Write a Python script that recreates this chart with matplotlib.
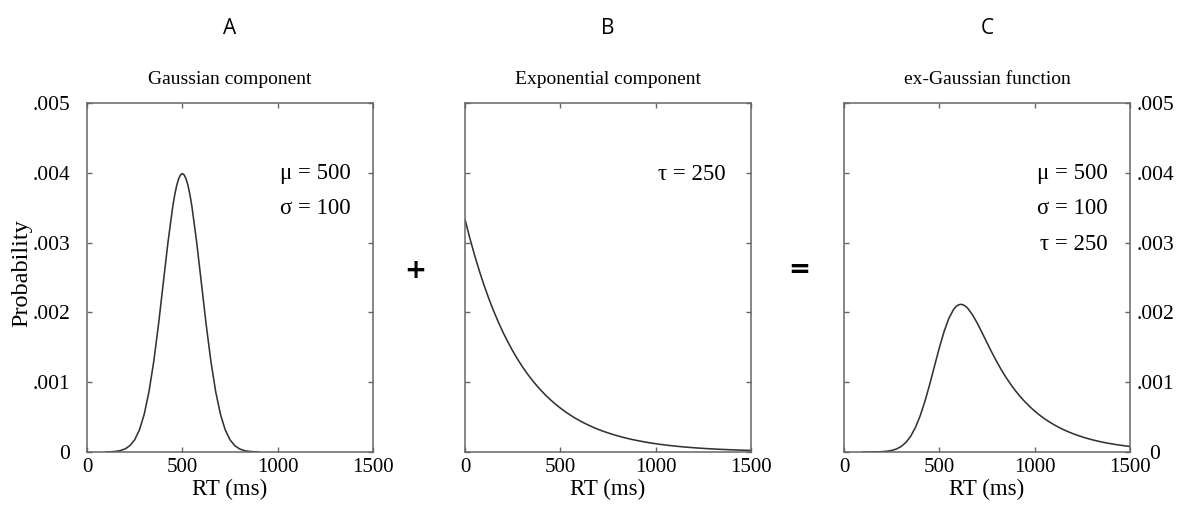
import numpy as np
import matplotlib
matplotlib.use("Agg")
import matplotlib.pyplot as plt

# values (RT in ms, probability density)
gauss_rt = [100, 125, 150, 175, 200, 225, 250, 275, 300, 325, 350, 375, 400,
            425, 450, 460, 470, 480, 490, 500, 510, 520, 530, 540, 550, 575,
            600, 625, 650, 675, 700, 725, 750, 775, 800, 825, 850, 875, 900]
gauss_p = [0.0000013, 0.0000035, 0.0000087, 0.0000203, 0.0000443, 0.0000909,
           0.000175, 0.000317, 0.000540, 0.000863, 0.001295, 0.001826,
           0.002420, 0.003011, 0.003521, 0.003683, 0.003814, 0.003910,
           0.003969, 0.003989, 0.003969, 0.003910, 0.003814, 0.003683,
           0.003521, 0.003011, 0.002420, 0.001826, 0.001295, 0.000863,
           0.000540, 0.000317, 0.000175, 0.0000909, 0.0000443, 0.0000203,
           0.0000087, 0.0000035, 0.0000013]

expo_rt = list(range(0, 1525, 25))
expo_p = [0.003333, 0.003067, 0.002822, 0.002596, 0.002388, 0.002197,
          0.002022, 0.001860, 0.001711, 0.001575, 0.001449, 0.001333,
          0.001226, 0.001128, 0.001038, 0.000955, 0.000879, 0.000808,
          0.000744, 0.000684, 0.000630, 0.000579, 0.000533, 0.000490,
          0.000451, 0.000415, 0.000382, 0.000351, 0.000323, 0.000297,
          0.000274, 0.000252, 0.000232, 0.000213, 0.000196, 0.000180,
          0.000166, 0.000153, 0.000140, 0.000129, 0.000119, 0.000109,
          0.000101, 0.0000926, 0.0000852, 0.0000784, 0.0000721, 0.0000664,
          0.0000611, 0.0000562, 0.0000517, 0.0000475, 0.0000437, 0.0000402,
          0.0000370, 0.0000341, 0.0000313, 0.0000288, 0.0000265, 0.0000244,
          0.0000225]

exg_rt = [100, 125, 150, 175, 200, 225, 250, 275, 300, 325, 350, 375, 400,
          425, 450, 475, 500, 525, 550, 575, 587.5, 600, 612.5, 625, 637.5,
          650, 675, 700, 725, 750, 775, 800, 825, 850, 875, 900, 925, 950,
          975, 1000, 1025, 1050, 1075, 1100, 1125, 1150, 1175, 1200, 1225,
          1250, 1275, 1300, 1325, 1350, 1375, 1400, 1425, 1450, 1475, 1500]
exg_p = [0.0000001, 0.0000003, 0.0000009, 0.0000021, 0.0000049, 0.0000106,
         0.0000220, 0.0000429, 0.0000791, 0.0001377, 0.0002267, 0.0003534,
         0.0005220, 0.0007314, 0.0009741, 0.0012348, 0.0014931, 0.0017267,
         0.0019152, 0.0020443, 0.0020844, 0.0021080, 0.0021158, 0.0021087,
         0.0020881, 0.0020555, 0.0019613, 0.0018403, 0.0017051, 0.0015656,
         0.0014288, 0.0012990, 0.0011783, 0.0010675, 0.0009665, 0.0008747,
         0.0007916, 0.0007163, 0.0006481, 0.0005864, 0.0005306, 0.0004801,
         0.0004344, 0.0003931, 0.0003557, 0.0003218, 0.0002912, 0.0002635,
         0.0002384, 0.0002157, 0.0001952, 0.0001766, 0.0001598, 0.0001446,
         0.0001308, 0.0001184, 0.0001071, 0.0000969, 0.0000877, 0.0000794]

x_ticks = [0, 500, 1000, 1500]
y_ticks = [0, 0.001, 0.002, 0.003, 0.004, 0.005]
y_labels = ['0', '.001', '.002', '.003', '.004', '.005']

letters = ['A', 'B', 'C']
titles = ['Gaussian component', 'Exponential component', 'ex-Gaussian function']
params = [['\u03bc = 500', '\u03c3 = 100'],
          ['\u03c4 = 250'],
          ['\u03bc = 500', '\u03c3 = 100', '\u03c4 = 250']]

serif = 'Liberation Serif'
sans = 'Open Sans'
spine_col = '#666666'
line_col = '#333333'

fig = plt.figure(figsize=(11.8, 5.13), dpi=100)
W, H = 1180, 513
lefts = [87, 465, 844]
pw = 286
top, bottom = 103, 452
axes = []
for l in lefts:
    axes.append(fig.add_axes([l / W, 1 - bottom / H, pw / W, (bottom - top) / H]))

data = [(gauss_rt, gauss_p), (expo_rt, expo_p), (exg_rt, exg_p)]
ann_x = [351, 726, 1108]

for i, ax in enumerate(axes):
    x, y = data[i]
    ax.plot(x, y, color=line_col, lw=1.15)
    ax.set_xlim(0, 1500)
    ax.set_ylim(0, 0.005)
    ax.set_xticks(x_ticks)
    ax.set_xticklabels([str(t) for t in x_ticks], fontfamily=serif, fontsize=15)
    ax.set_yticks(y_ticks)
    for s in ax.spines.values():
        s.set_color(spine_col)
        s.set_linewidth(1.1)
    ax.tick_params(direction='in', length=3.5, width=1, color=spine_col,
                   top=True, right=True, pad=4)
    if i == 0:
        ax.set_yticklabels(y_labels, fontfamily=serif, fontsize=15.5)
        ax.tick_params(axis='y', pad=12)
    elif i == 1:
        ax.set_yticklabels([])
    else:
        ax.yaxis.tick_right()
        ax.tick_params(axis='y', left=True, right=True, labelleft=False,
                       labelright=True, pad=18)
        ax.set_yticklabels(y_labels, fontfamily=serif, fontsize=15.5)
        for lab in ax.get_yticklabels():
            lab.set_horizontalalignment('center')
    ax.text(0.5, -(489 - bottom) / (bottom - top), 'RT (ms)', transform=ax.transAxes,
            ha='center', va='center', fontfamily=serif, fontsize=16.5)
    cx = (lefts[i] + pw / 2) / W
    fig.text(cx, 1 - 80 / H, titles[i], ha='center', va='center',
             fontfamily=serif, fontsize=14)
    fig.text(cx, 1 - 28 / H, letters[i], ha='center', va='center',
             fontfamily=sans, fontsize=15)
    for j, t in enumerate(params[i]):
        fig.text(ann_x[i] / W, 1 - (174 + 35 * j) / H, t, ha='right', va='center',
                 fontfamily=serif, fontsize=16.5)

fig.text(22 / W, 1 - 273 / H, 'Probability', rotation=90, ha='center', va='center',
         fontfamily=serif, fontsize=17.5)
fig.text(415 / W, 1 - 271 / H, '+', ha='center', va='center',
         fontfamily='DejaVu Sans', fontweight='bold', fontsize=19)
fig.text(799 / W, 1 - 270 / H, '=', ha='center', va='center',
         fontfamily='DejaVu Sans', fontweight='bold', fontsize=19)

fig.savefig('out.png', dpi=100)
